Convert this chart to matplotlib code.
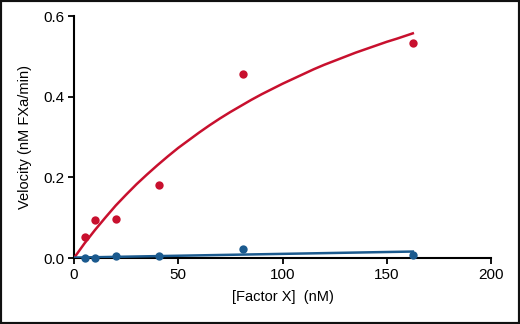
import matplotlib.pyplot as plt
from matplotlib.patches import Rectangle

# factor X concentrations (nM), two-fold dilution series
factor_x = [5.1, 10.2, 20.3, 40.6, 81.25, 162.5]

# measured velocities (nM FXa/min)
red_velocity = [0.051, 0.093, 0.096, 0.180, 0.456, 0.534]
blue_velocity = [0.0, 0.0, 0.006, 0.006, 0.022, 0.008]

# fitted curves
fit_x = [0, 5, 10, 15, 20, 25, 30, 35, 40, 45, 50, 55, 60, 65, 70, 75, 80, 85,
         90, 95, 100, 105, 110, 115, 120, 125, 130, 135, 140, 145, 150, 155, 162.5]
red_fit = [0, 0.036, 0.069, 0.100, 0.130, 0.157, 0.183, 0.207, 0.230, 0.252,
           0.273, 0.292, 0.311, 0.329, 0.346, 0.362, 0.377, 0.392, 0.406, 0.419,
           0.432, 0.444, 0.456, 0.468, 0.479, 0.489, 0.499, 0.509, 0.518, 0.527,
           0.536, 0.544, 0.557]
blue_fit_x = [0, 162.5]
blue_fit = [0.001, 0.016]

RED = '#C8102E'
BLUE = '#1B5A8E'

fig = plt.figure(figsize=(5.2, 3.24), dpi=100)
ax = fig.add_axes([74 / 520, 66 / 324, 417 / 520, 242 / 324])

ax.plot(fit_x, red_fit, color=RED, lw=1.8, zorder=3)
ax.plot(blue_fit_x, blue_fit, color=BLUE, lw=1.8, zorder=3)
ax.plot(factor_x, red_velocity, 'o', color=RED, ms=6, mec='none', zorder=4, clip_on=False)
ax.plot(factor_x, blue_velocity, 'o', color=BLUE, ms=6, mec='none', zorder=4, clip_on=False)

ax.set_xlim(0, 200)
ax.set_ylim(0, 0.6)
ax.set_xticks([0, 50, 100, 150, 200])
ax.set_yticks([0.0, 0.2, 0.4, 0.6])
ax.set_yticklabels(['0.0', '0.2', '0.4', '0.6'])

for side in ['top', 'right']:
    ax.spines[side].set_visible(False)
for side in ['left', 'bottom']:
    ax.spines[side].set_linewidth(1.5)
ax.tick_params(direction='out', length=4, width=1.3, labelsize=11,
               colors='black', pad=3)
for lab in ax.get_xticklabels() + ax.get_yticklabels():
    lab.set_family(['Liberation Sans', 'DejaVu Sans'])

label_font = {'family': ['Liberation Sans Narrow', 'Liberation Sans', 'DejaVu Sans'], 'size': 10.5}
ax.set_xlabel('[Factor X]  (nM)', fontdict=label_font, labelpad=6)
ax.set_ylabel('Velocity (nM FXa/min)', fontdict=label_font, labelpad=8)

# black frame round the picture
fig.patches.append(Rectangle((0, 0), 1, 1, transform=fig.transFigure,
                             fill=False, edgecolor='#111111', linewidth=3))

fig.savefig('out.png', dpi=100)
